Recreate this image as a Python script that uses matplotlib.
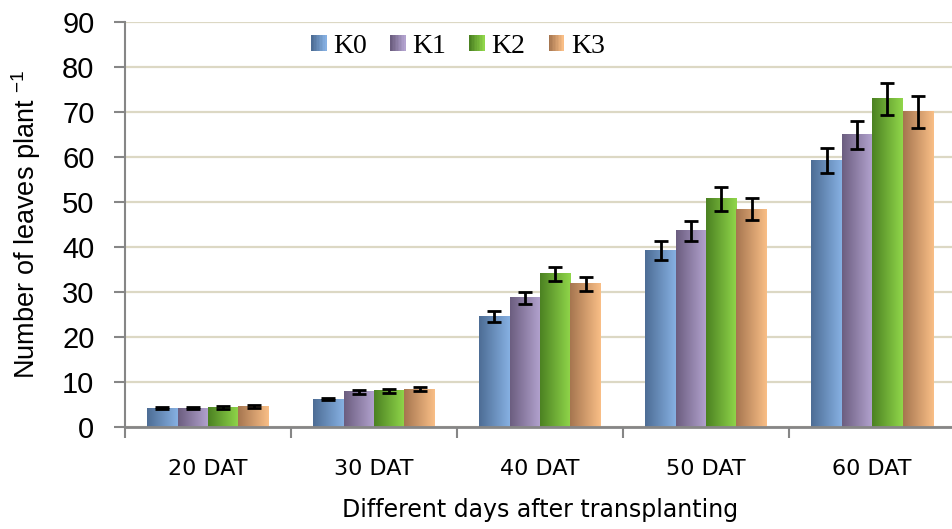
import numpy as np
import matplotlib
import matplotlib.pyplot as plt
from matplotlib.patches import Rectangle
from matplotlib.legend_handler import HandlerBase
from matplotlib.colors import LinearSegmentedColormap

matplotlib.use('agg')

# данные
days = ['20 DAT', '30 DAT', '40 DAT', '50 DAT', '60 DAT']
treatments = ['K0', 'K1', 'K2', 'K3']
k0 = [4.2, 6.2, 24.5, 39.3, 59.2]
k1 = [4.2, 7.8, 28.7, 43.6, 64.9]
k2 = [4.3, 8.0, 34.0, 50.7, 72.9]
k3 = [4.5, 8.4, 31.8, 48.4, 70.0]
k0_err = [0.3, 0.3, 1.2, 2.1, 2.8]
k1_err = [0.3, 0.4, 1.3, 2.2, 3.2]
k2_err = [0.3, 0.4, 1.6, 2.6, 3.6]
k3_err = [0.3, 0.4, 1.5, 2.5, 3.5]

values = [k0, k1, k2, k3]
errors = [k0_err, k1_err, k2_err, k3_err]
# градиенты: слева темнее, справа светлее
grads = [('#4d6d95', '#86b0e2'),
         ('#6c5e80', '#b3a3cf'),
         ('#4c8222', '#90d64a'),
         ('#a67650', '#f9be86')]

cmaps = [LinearSegmentedColormap.from_list('g%d' % i, g) for i, g in enumerate(grads)]


class GradHandler(HandlerBase):
    def __init__(self, cmap):
        super().__init__()
        self.cmap = cmap

    def create_artists(self, legend, orig_handle, xdescent, ydescent, width, height, fontsize, trans):
        n = 10
        size = min(width, height)
        x0 = -xdescent + (width - size) / 2
        y0 = -ydescent + (height - size) / 2
        arts = []
        for i in range(n):
            r = Rectangle((x0 + i * size / n, y0), size / n + 0.3, size,
                          facecolor=self.cmap(i / (n - 1)), edgecolor='none', transform=trans)
            arts.append(r)
        return arts


fig = plt.figure(figsize=(9.52, 5.29), dpi=100)
ax = fig.add_axes([0.1313, 0.1928, 0.872, 0.7656])

x = np.arange(len(days))
bw = 0.183
grad_img = np.linspace(0, 1, 64).reshape(1, -1)

for j in range(4):
    xs = x + (j - 1.5) * bw
    for xi, v in zip(xs, values[j]):
        ax.imshow(grad_img, cmap=cmaps[j], aspect='auto', interpolation='bilinear',
                  extent=(xi - bw / 2, xi + bw / 2, 0, v), zorder=2)
    ax.errorbar(xs, values[j], yerr=errors[j], fmt='none', ecolor='black',
                elinewidth=2, capsize=5, capthick=2, zorder=3)

ax.set_xlim(-0.5, 4.5)
ax.set_ylim(0, 90)
ax.set_yticks(range(0, 91, 10))
ax.set_xticks(x)
ax.set_xticklabels(days, fontsize=16)
ax.set_xticks(np.arange(-0.5, 5, 1), minor=True)
ax.tick_params(axis='x', which='major', length=0, pad=23)
ax.tick_params(axis='x', which='minor', length=8, width=1.5, color='#868686')
ax.tick_params(axis='y', length=8, width=1.5, color='#868686', pad=14)
for lab in ax.get_yticklabels():
    lab.set_family(['Liberation Sans', 'DejaVu Sans'])
    lab.set_fontsize(21)

ax.grid(axis='y', color='#dcd8c4', linewidth=1.6, zorder=0)
ax.set_axisbelow(True)
for s in ['top', 'right']:
    ax.spines[s].set_visible(False)
ax.spines['left'].set_color('#868686')
ax.spines['bottom'].set_color('#868686')
ax.spines['left'].set_linewidth(1.5)
ax.spines['bottom'].set_linewidth(2)

ax.set_xlabel('Different days after transplanting', fontsize=17, labelpad=14)
ax.set_ylabel(r'Number of leaves plant $^{\mathregular{-1}}$', fontsize=19.5,
              family=['Liberation Sans', 'DejaVu Sans'], labelpad=14)

handles = [Rectangle((0, 0), 1, 1) for _ in treatments]
leg = ax.legend(handles, treatments, loc='center', bbox_to_anchor=(0.401, 0.94), ncol=4,
                frameon=False, handlelength=0.55, handleheight=0.55, handletextpad=0.25,
                columnspacing=0.83, prop={'family': 'Liberation Serif', 'size': 20},
                handler_map={h: GradHandler(c) for h, c in zip(handles, cmaps)})

fig.savefig('out.png', dpi=100)
